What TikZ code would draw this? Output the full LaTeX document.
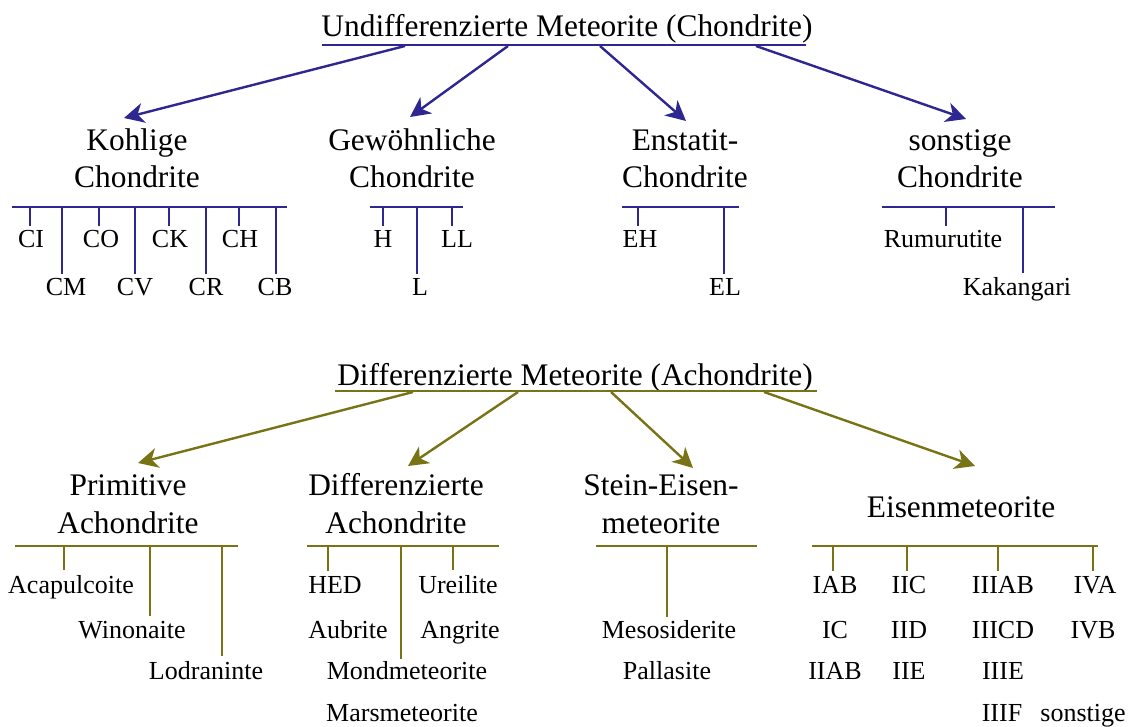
\documentclass[tikz,border=0pt]{standalone}
\usepackage{fontspec}
\setmainfont{Liberation Serif}
\usetikzlibrary{arrows.meta, positioning}
\definecolor{chondblue}{RGB}{46,38,145}
\definecolor{achondolive}{RGB}{120,116,22}

\begin{document}
\begin{tikzpicture}[x=1pt, y=-1pt,
    title/.style={font=\fontsize{31.4}{37.5}\selectfont, inner sep=0pt, anchor=base},
    head/.style={font=\fontsize{31.4}{37.5}\selectfont, align=center, inner sep=0pt, anchor=base},
    leaf/.style={font=\fontsize{26}{30}\selectfont, inner sep=0pt, anchor=base},
    barline/.style={line width=2.4pt},
    arr/.style={line width=2.4pt, -{Stealth[length=20pt, width=20pt, inset=6pt]}},
    tick/.style={line width=2.4pt, shorten >=5pt}]
    \useasboundingbox (0,0) rectangle (1130,727);

    % Undifferenzierte Meteorite
    \begin{scope}[color=chondblue]
        \node[title, text=black] (und) at (567,37) {Undifferenzierte Meteorite (Chondrite)};
        \coordinate (ul) at (322,45);
        \coordinate (ur) at (806,45);
        \draw[barline] (ul) -- (ur);

        % base = baseline of the last line
        \node[head, text=black] (kohl) at (137,188) {Kohlige\\Chondrite};
        \node[head, text=black] (gew) at (412,188) {Gewöhnliche\\Chondrite};
        \node[head, text=black] (enst) at (685,188) {Enstatit-\\Chondrite};
        \node[head, text=black] (sonst) at (960,188) {sonstige\\Chondrite};

        \coordinate (ua1) at (405,46);  \coordinate (kohltip) at (124,118);
        \coordinate (ua2) at (508,46);  \coordinate (gewtip) at (410,117);
        \coordinate (ua3) at (600,46);  \coordinate (ensttip) at (686,121);
        \coordinate (ua4) at (756,46);  \coordinate (sonsttip) at (966,119);
        \draw[arr] (ua1) -- (kohltip);
        \draw[arr] (ua2) -- (gewtip);
        \draw[arr] (ua3) -- (ensttip);
        \draw[arr] (ua4) -- (sonsttip);

        % Kohlige Chondrite
        \node[leaf, text=black] (ci) at (31,248) {CI};
        \node[leaf, text=black] (co) at (101,248) {CO};
        \node[leaf, text=black] (ck) at (170,248) {CK};
        \node[leaf, text=black] (ch) at (240,248) {CH};
        \node[leaf, text=black] (cm) at (66,296) {CM};
        \node[leaf, text=black] (cv) at (135,296) {CV};
        \node[leaf, text=black] (cr) at (206,296) {CR};
        \node[leaf, text=black] (cb) at (275,296) {CB};
        \draw[barline] (12,207) coordinate (kl) -- (287,207) coordinate (kr);
        \coordinate (k1) at (30,207);  \coordinate (k2) at (62,207);
        \coordinate (k3) at (99,207);  \coordinate (k4) at (135,207);
        \coordinate (k5) at (169,207); \coordinate (k6) at (206,207);
        \coordinate (k7) at (239,207); \coordinate (k8) at (276,207);
        \draw[tick] (k1) -- (k1 |- ci.north);
        \draw[tick] (k2) -- (k2 |- cm.north);
        \draw[tick] (k3) -- (k3 |- co.north);
        \draw[tick] (k4) -- (k4 |- cv.north);
        \draw[tick] (k5) -- (k5 |- ck.north);
        \draw[tick] (k6) -- (k6 |- cr.north);
        \draw[tick] (k7) -- (k7 |- ch.north);
        \draw[tick] (k8) -- (k8 |- cb.north);

        % Gewoehnliche Chondrite
        \node[leaf, text=black] (h) at (383,248) {H};
        \node[leaf, text=black] (ll) at (457,248) {LL};
        \node[leaf, text=black] (l) at (420,296) {L};
        \draw[barline] (370,207) coordinate (gl) -- (463,207) coordinate (gr);
        \coordinate (g1) at (383,207); \coordinate (g2) at (417,207); \coordinate (g3) at (452,207);
        \draw[tick] (g1) -- (g1 |- h.north);
        \draw[tick] (g2) -- (g2 |- l.north);
        \draw[tick] (g3) -- (g3 |- ll.north);

        % Enstatit-Chondrite
        \node[leaf, text=black] (eh) at (640,248) {EH};
        \node[leaf, text=black] (el) at (725,296) {EL};
        \draw[barline] (622,207) coordinate (el0) -- (739,207) coordinate (er0);
        \coordinate (e1) at (638,207); \coordinate (e2) at (724,207);
        \draw[tick] (e1) -- (e1 |- eh.north);
        \draw[tick] (e2) -- (e2 |- el.north);

        % sonstige Chondrite
        \node[leaf, text=black] (rum) at (943,248) {Rumurutite};
        \node[leaf, text=black] (kak) at (1017,296) {Kakangari};
        \draw[barline] (882,207) coordinate (sl) -- (1055,207) coordinate (sr);
        \coordinate (s1) at (946,207); \coordinate (s2) at (1023,207);
        \draw[tick] (s1) -- (s1 |- rum.north);
        \draw[tick] (s2) -- (s2 |- kak.north);
    \end{scope}

    % Differenzierte Meteorite
    \begin{scope}[color=achondolive]
        \node[title, text=black] (diff) at (575,385) {Differenzierte Meteorite (Achondrite)};
        \coordinate (dl) at (335,391);
        \coordinate (dr) at (817,391);
        \draw[barline] (dl) -- (dr);

        \node[head, text=black] (prim) at (128,533) {Primitive\\Achondrite};
        \node[head, text=black] (dach) at (396,533) {Differenzierte\\Achondrite};
        \node[head, text=black] (stein) at (661,533) {Stein-Eisen-\\meteorite};
        \node[head, text=black] (eisen) at (961,517) {Eisenmeteorite};

        \coordinate (da1) at (413,392); \coordinate (primtip) at (138,463);
        \coordinate (da2) at (518,392); \coordinate (dachtip) at (408,466);
        \coordinate (da3) at (611,392); \coordinate (steintip) at (693,468);
        \coordinate (da4) at (764,392); \coordinate (eisentip) at (975,466);
        \draw[arr] (da1) -- (primtip);
        \draw[arr] (da2) -- (dachtip);
        \draw[arr] (da3) -- (steintip);
        \draw[arr] (da4) -- (eisentip);

        % Primitive Achondrite
        \node[leaf, text=black] (aca) at (71,593) {Acapulcoite};
        \node[leaf, text=black] (win) at (132,638) {Winonaite};
        \node[leaf, text=black] (lod) at (206,679) {Lodraninte};
        \draw[barline] (15,546) coordinate (pl) -- (238,546) coordinate (pr);
        \coordinate (p1) at (64,546); \coordinate (p2) at (150,546); \coordinate (p3) at (222,546);
        \draw[tick] (p1) -- (p1 |- aca.north);
        \draw[tick] (p2) -- (p2 |- win.north);
        \draw[tick] (p3) -- (p3 |- lod.north);

        % Differenzierte Achondrite
        \node[leaf, text=black] (hed) at (335,593) {HED};
        \node[leaf, text=black] (ure) at (458,593) {Ureilite};
        \node[leaf, text=black] (aub) at (348,638) {Aubrite};
        \node[leaf, text=black] (ang) at (460,638) {Angrite};
        \node[leaf, text=black] (mond) at (407,679) {Mondmeteorite};
        \node[leaf, text=black] (mars) at (402,721) {Marsmeteorite};
        \draw[barline] (307,546) coordinate (al) -- (499,546) coordinate (ar);
        \coordinate (a1) at (328,546); \coordinate (a2) at (401,546); \coordinate (a3) at (453,546);
        \draw[tick] (a1) -- (a1 |- hed.north);
        \draw[tick, shorten >=2pt] (a2) -- (a2 |- mond.north);
        \draw[tick] (a3) -- (a3 |- ure.north);

        % Stein-Eisen-Meteorite
        \node[leaf, text=black] (meso) at (669,638) {Mesosiderite};
        \node[leaf, text=black] (pall) at (667,679) {Pallasite};
        \draw[barline] (596,546) coordinate (stl) -- (757,546) coordinate (str);
        \coordinate (st1) at (667,546);
        \draw[tick, shorten >=3pt] (st1) -- (st1 |- meso.north);

        % Eisenmeteorite
        \node[leaf, text=black] (iab) at (835,593) {IAB};
        \node[leaf, text=black] (ic) at (835,638) {IC};
        \node[leaf, text=black] (iiab) at (835,679) {IIAB};
        \node[leaf, text=black] (iic) at (909,593) {IIC};
        \node[leaf, text=black] (iid) at (909,638) {IID};
        \node[leaf, text=black] (iie) at (909,679) {IIE};
        \node[leaf, text=black] (iiiab) at (1003,593) {IIIAB};
        \node[leaf, text=black] (iiicd) at (1003,638) {IIICD};
        \node[leaf, text=black] (iiie) at (1003,679) {IIIE};
        \node[leaf, text=black] (iiif) at (1002,721) {IIIF};
        \node[leaf, text=black] (iva) at (1095,593) {IVA};
        \node[leaf, text=black] (ivb) at (1093,638) {IVB};
        \node[leaf, text=black] (eson) at (1083,721) {sonstige};
        \draw[barline] (812,546) coordinate (fl) -- (1098,546) coordinate (fr);
        \coordinate (f1) at (833,546); \coordinate (f2) at (907,546);
        \coordinate (f3) at (998,546); \coordinate (f4) at (1093,546);
        \draw[tick] (f1) -- (f1 |- iab.north);
        \draw[tick] (f2) -- (f2 |- iic.north);
        \draw[tick] (f3) -- (f3 |- iiiab.north);
        \draw[tick] (f4) -- (f4 |- iva.north);
    \end{scope}
\end{tikzpicture}
\end{document}
